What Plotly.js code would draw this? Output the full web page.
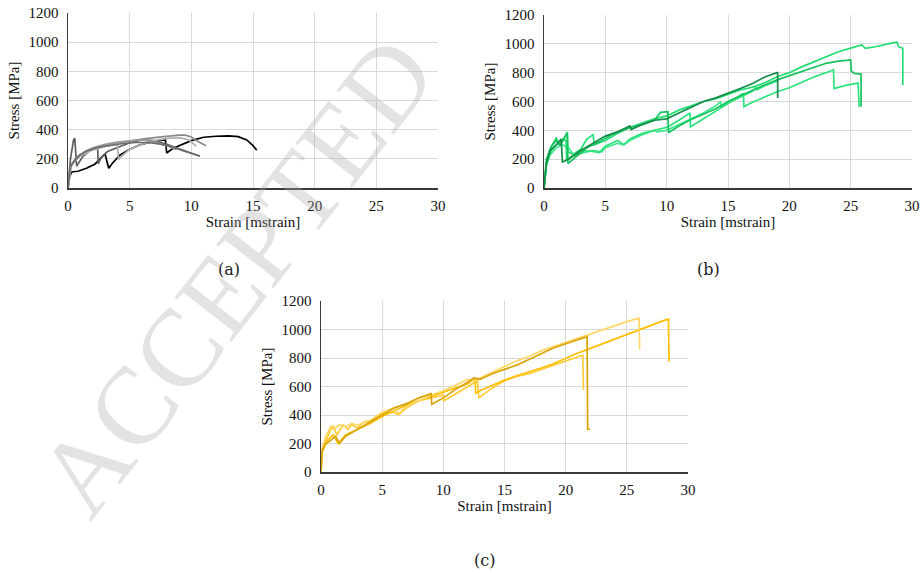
<!DOCTYPE html>
<html>
<head>
<meta charset="utf-8">
<script src="https://cdn.plot.ly/plotly-3.0.1.min.js"></script>
<style>html,body{margin:0;padding:0;background:#fff;}#chart{width:923px;height:573px;}</style>
</head>
<body>
<div id="chart"></div>
<script>
// ---------- data: panel (a) ----------
const a1x = [0,0.1,0.3,0.8,1.5,2.2,3.0,3.3,3.6,4.2,5,5.8,6.5,7.3,7.9,8.0,8.4,9,10,11,12,13,13.8,14.5,15,15.3];
const a1y = [0,70,110,115,135,165,235,135,170,225,265,295,310,325,330,240,265,290,325,348,355,357,352,330,290,260];
const a2x = [0,0.2,0.45,0.55,0.7,1.2,1.8,2.4,2.45,2.7,3.2,3.5,4,5,6,7,8,9,10,10.7];
const a2y = [0,200,330,340,150,215,260,280,165,210,250,260,280,310,330,325,300,270,240,218];
const a3x = [0,0.2,0.5,1,2,3,4,5,6,7,8,9,9.5,10,10.5,11.2];
const a3y = [0,150,190,230,270,295,310,325,335,345,355,362,362,350,320,290];
const a4x = [0,0.3,1,2,3,4,4.1,4.3,5,6,7,8,9,9.8,10.4];
const a4y = [0,160,220,260,285,300,195,215,265,300,325,340,345,330,285];
const a5x = [0,0.2,0.6,1.2,2,3,4,5,6,6.8,7.5,8.2,8.8];
const a5y = [0,140,200,240,275,300,315,325,330,320,305,285,262];
const a6x = [0,0.2,0.8,1.5,2.5,3.5,4.5,5.5,6.5,7.5,8.5,9.5,10.7];
const a6y = [0,150,215,255,280,295,305,312,312,300,280,250,219];

// ---------- data: panel (b) ----------
const b1x = [0,0.2,0.5,1,1.4,1.5,2,3,4,5,6,7,7.1,8,9,10,11,12,13,14,15,16,17,18,19,19.05,19.05];
const b1y = [0,170,260,300,340,180,200,260,310,360,390,430,405,440,470,480,520,560,600,625,655,690,725,770,800,800,625];
const b2x = [0,0.2,0.6,1,1.3,1.9,1.95,2.5,3.5,4.5,5.5,6.5,7,8,9,9.5,10.1,10.15,11,12,13,14,15,16,17,18,19,20,21,22,23,24,25,25.05,25.3,25.85,25.85];
const b2y = [0,200,290,330,300,380,170,210,280,320,370,400,420,440,470,525,530,383,430,475,515,550,600,640,680,715,750,780,810,840,865,880,888,810,795,790,565];
const b3x = [0,0.2,0.5,0.8,1,1.2,1.5,1.8,1.85,2.5,3,3.5,4,4.1,5,6,7,8,9,10,11,12,13,14,15,16,17,18,19,20,21,22,23,24,25,25.9,26.2,27,28.5,28.8,28.9,29.25,29.25];
const b3y = [0,180,270,320,350,300,340,330,190,240,270,340,370,300,330,380,420,450,480,500,540,570,600,620,650,680,700,730,772,800,840,875,910,945,970,992,969,980,1008,1012,980,969,714];
const b4x = [0,0.2,0.6,1,1.5,1.9,1.95,2.5,3.5,4,4.5,5,6,6.5,7,8,9,10,11,11.9,11.95,13,14,15,16.25,16.3,17,18,19,20,21,22,23,23.6,23.65,24.5,25.6,25.7];
const b4y = [0,170,260,300,320,390,250,230,260,250,245,290,330,300,340,380,400,420,470,520,425,480,530,585,657,565,595,630,668,695,735,770,800,820,690,710,728,560];
const b5x = [0,0.2,0.5,1,1.5,2,2.5,3,4,4.7,5,6,6.5,7,8,9,9.2,10,11,12,13,14,14.4,14.45,15,16,17,17.3,17.35,18,19];
const b5y = [0,160,230,280,300,280,220,240,260,250,280,310,300,330,370,400,390,400,440,480,520,570,600,560,590,630,670,698,680,710,740];

// ---------- data: panel (c) ----------
const c1x = [0,0.1,0.3,0.8,1.2,1.5,2,3,4,5,6,7,8,9,9.05,10,11,12,12.5,13,14,15,16,17,18,19,20,21,21.75,21.8,22];
const c1y = [0,150,190,220,250,200,250,300,350,400,450,480,520,550,475,520,580,630,660,650,690,720,750,790,830,870,900,930,950,300,300];
const c2x = [0,0.1,0.4,0.8,1,1.5,2,2.5,3,4,5,6,6.3,7,8,9,10,11,12,12.5,13,14,15,16,17,18,19,20,21,22,23,24,25,26,26.05];
const c2y = [0,170,250,320,300,330,320,340,330,360,420,450,410,460,500,540,570,610,650,640,660,700,740,780,810,850,880,910,940,970,1000,1030,1055,1080,862];
const c3x = [0,0.1,0.5,1,1.4,2,3,4,5,6,7,8,9,10,11,12,12.6,12.65,13,14,15,16,17,18,19,20,21,21.7,23,24,25,26,27,28,28.4,28.45];
const c3y = [0,140,220,260,200,260,300,340,390,430,470,500,530,560,590,620,658,553,570,610,645,675,700,730,760,800,835,857,900,935,965,1000,1030,1062,1072,775];
const c4x = [0,0.1,0.5,0.8,1,1.3,1.8,2.2,2.5,3,3.5,4,5,6,6.3,7,8,9,10,10.05,11,12,12.8,12.9,13.5,14,15,16,17,18,19,20,21,21.4,21.45];
const c4y = [0,160,240,300,320,260,330,300,330,310,350,360,410,420,400,450,500,520,540,500,550,600,640,520,560,590,640,670,690,720,750,780,805,820,577];

// ---------- ticks / labels ----------
const xTicks = [0,5,10,15,20,25,30];
const yTicks = [0,200,400,600,800,1000,1200];
const xTitle = 'Strain [mstrain]';
const yTitle = 'Stress [MPa]';
const panelLabels = ['(a)','(b)','(c)'];

const seriesA = [[a1x,a1y,'#000000'],[a2x,a2y,'#5e5e5e'],[a3x,a3y,'#8a8a8a'],[a4x,a4y,'#b0b0b0'],[a5x,a5y,'#9a9a9a'],[a6x,a6y,'#6e6e6e']];
const seriesB = [[b5x,b5y,'#3fe98c'],[b4x,b4y,'#2ee37e'],[b3x,b3y,'#22dd72'],[b2x,b2y,'#17c25f'],[b1x,b1y,'#138d48']];
const seriesC = [[c4x,c4y,'#ffcc3a'],[c3x,c3y,'#ffbf00'],[c2x,c2y,'#ffd766'],[c1x,c1y,'#d8a409']];

const traces = [];
function addSeries(list, xa, ya){
  list.forEach(s => traces.push({x:s[0], y:s[1], xaxis:xa, yaxis:ya, type:'scatter', mode:'lines',
    line:{color:s[2], width:1.7}, hoverinfo:'skip', showlegend:false}));
}
addSeries(seriesA,'x','y');
addSeries(seriesB,'x2','y2');
addSeries(seriesC,'x3','y3');

const SERIF = 'Liberation Serif';
function xax(dom, anchor){
  return {domain:dom, anchor:anchor, range:[0,30], tickvals:xTicks, ticktext:xTicks.map(String),
    showgrid:true, gridcolor:'#d9d9d9', gridwidth:1, zeroline:false, showline:true, linecolor:'#3a3a3a', linewidth:1.5,
    ticks:'outside', ticklen:3, tickcolor:'rgba(0,0,0,0)', tickfont:{family:SERIF, size:15, color:'#111'},
    title:{text:xTitle, font:{family:SERIF, size:15, color:'#111'}, standoff:3}, fixedrange:true};
}
function yax(dom, anchor){
  return {domain:dom, anchor:anchor, range:[0,1200], tickvals:yTicks, ticktext:yTicks.map(String),
    showgrid:true, gridcolor:'#d9d9d9', gridwidth:1, zeroline:false, showline:true, linecolor:'#3a3a3a', linewidth:1.5,
    ticks:'outside', ticklen:5, tickcolor:'rgba(0,0,0,0)', tickfont:{family:SERIF, size:15, color:'#111'},
    title:{text:yTitle, font:{family:SERIF, size:15, color:'#111'}, standoff:5}, fixedrange:true};
}

const W = 923, H = 573;
const labelFont = {family:'DejaVu Serif', size:16, color:'#222'};
const layout = {
  width:W, height:H, margin:{l:0,r:0,t:0,b:0}, paper_bgcolor:'#fff', plot_bgcolor:'rgba(0,0,0,0)',
  font:{family:SERIF, size:15, color:'#111'},
  xaxis: xax([68/W, 438/W], 'y'),
  yaxis: yax([1-188/H, 1-13/H], 'x'),
  xaxis2: xax([544/W, 912/W], 'y2'),
  yaxis2: yax([1-188/H, 1-15/H], 'x2'),
  xaxis3: xax([321/W, 688/W], 'y3'),
  yaxis3: yax([1-472/H, 1-301/H], 'x3'),
  annotations: [
    {text:panelLabels[0], xref:'paper', yref:'paper', x:229/W, y:1-270/H, showarrow:false, xanchor:'center', yanchor:'middle', font:labelFont},
    {text:panelLabels[1], xref:'paper', yref:'paper', x:708/W, y:1-270/H, showarrow:false, xanchor:'center', yanchor:'middle', font:labelFont},
    {text:panelLabels[2], xref:'paper', yref:'paper', x:484/W, y:1-560/H, showarrow:false, xanchor:'center', yanchor:'middle', font:labelFont},
    {text:'ACCEPTED', xref:'paper', yref:'paper', x:236/W, y:1-276/H, showarrow:false, xanchor:'center', yanchor:'middle',
     textangle:-52, font:{family:SERIF, size:110, color:'rgba(170,170,170,0.33)'}}
  ]
};

Plotly.newPlot('chart', traces, layout, {displayModeBar:false, staticPlot:true});
</script>
</body>
</html>
